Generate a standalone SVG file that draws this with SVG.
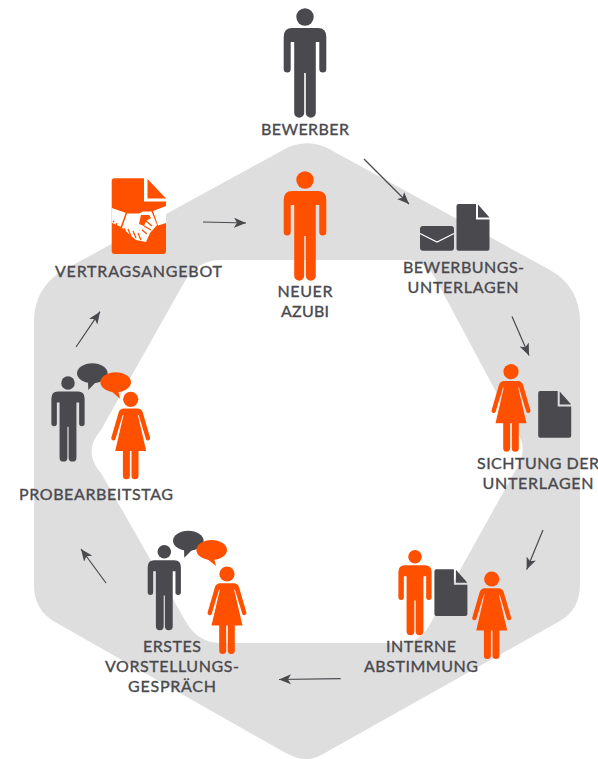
<svg xmlns="http://www.w3.org/2000/svg" width="598" height="759" viewBox="0 0 598 759">
<style>
.t{font-family:"Lato","Liberation Sans",sans-serif;font-size:16px;font-weight:400;fill:#4a494e;stroke:#4a494e;stroke-width:.35;text-anchor:middle}
.dk{fill:#4a494e}.or{fill:#ff5000}
.c{fill:none;stroke:#4a494e;stroke-width:1.2;marker-end:url(#ah)}
</style>
<defs>
<marker id="ah" markerUnits="userSpaceOnUse" markerWidth="14" markerHeight="12" refX="12" refY="5" orient="auto" viewBox="0 0 14 10">
<path d="M0,0 L12,5 L0,10 L3,5Z" fill="#4a494e"/>
</marker>
<g id="man"><circle cx="0" cy="0" r="8.7"/><path d="M-13,11H13Q21.3,11 21.3,20V52A3.5,3.5 0 0 1 14.3,52V25H10.8V95.7A5,5 0 0 1 0.8,95.7V56H-0.8V95.7A5,5 0 0 1 -10.8,95.7V25H-14.3V52A3.5,3.5 0 0 1 -21.3,52V20Q-21.3,11 -13,11Z"/></g>
<g id="woman"><circle cx="0" cy="0" r="7.6"/>
<path d="M-7,9.3H7Q10.5,9.3 12,13L19.4,38.5A2.2,2.2 0 0 1 15.3,40L8.2,16.5L7,15L15.5,51.6H7.8V76.5A3.5,3.5 0 0 1 .8,76.5V51.6H-.8V76.5A3.5,3.5 0 0 1 -7.8,76.5V51.6H-15.5L-7,15L-8.2,16.5L-15.3,40A2.2,2.2 0 0 1 -19.4,38.5L-12,13Q-10.5,9.3 -7,9.3Z"/></g>
<path id="doc" d="M2,0H19.5V15.5H33V44.7A2,2 0 0 1 31,46.7H2A2,2 0 0 1 0,44.7V2A2,2 0 0 1 2,0ZM21.5,0.5L33,13.5H21.5Z"/>
</defs>
<path id="ring" fill="#dedede" fill-rule="evenodd" d="M283,150C298,141 316,141 331,150L550,270Q580,287 580,322V585Q580,610 559,621.5L331,749.5C311,762 303,762 283,751.5L55,622Q34,610 34,585V322Q34,287 64,270Z
M221,260H405Q424,260 434,276L518,433Q529,452 514,473L429,626Q419,643 402,643H221Q198,643 186,622L101,473Q82,451.5 101,430L185,281Q198,260 221,260Z"/>
<g id="connectors">
<line class="c" x1="364" y1="159" x2="409" y2="204"/>
<line class="c" x1="512" y1="316.5" x2="529" y2="355.4"/>
<line class="c" x1="543" y1="530" x2="526.7" y2="569.6"/>
<line class="c" x1="340.6" y1="678.7" x2="279" y2="679.5"/>
<line class="c" x1="106" y1="583" x2="81" y2="549"/>
<line class="c" x1="76" y1="347" x2="100" y2="311.7"/>
<line class="c" x1="203" y1="222" x2="246" y2="223"/>
</g>
<g id="bewerber"><use href="#man" class="dk" transform="translate(305,17)"/><text class="t" x="305" y="135" textLength="88">BEWERBER</text></g>
<g id="neuer-azubi"><use href="#man" class="or" transform="translate(305,180)"/><text class="t" x="305" y="296.5" textLength="55">NEUER</text><text class="t" x="305" y="316.5" textLength="48">AZUBI</text></g>
<g id="bewerbungsunterlagen">
<path class="dk" d="M423,226H451A3,3 0 0 1 454,229V247.7A3,3 0 0 1 451,250.7H423A3,3 0 0 1 420,247.7V229A3,3 0 0 1 423,226Z"/>
<path d="M420,233.5L437,242L454,233.5" fill="none" stroke="#fff" stroke-width="1.2"/>
<use href="#doc" class="dk" transform="translate(456.5,204)"/>
<text class="t" x="463.5" y="273" textLength="121">BEWERBUNGS-</text><text class="t" x="463" y="292.5" textLength="111">UNTERLAGEN</text></g>
<g id="sichtung"><use href="#woman" class="or" transform="translate(511,371.7)"/><use href="#doc" class="dk" transform="translate(538.2,391)"/>
<text class="t" x="538" y="469" textLength="122">SICHTUNG DER</text><text class="t" x="538" y="488.5" textLength="111">UNTERLAGEN</text></g>
<g id="interne"><use href="#man" class="or" transform="translate(415,556.7) scale(.78)"/><use href="#doc" class="dk" transform="translate(434.4,569.3)"/><use href="#woman" class="or" transform="translate(491.7,579)"/>
<text class="t" x="421" y="651.5" textLength="70">INTERNE</text><text class="t" x="421" y="671.5" textLength="114">ABSTIMMUNG</text></g>
<g id="erstes"><use href="#man" class="dk" transform="translate(164.3,551.7) scale(.78)"/>
<ellipse class="dk" cx="188.3" cy="540.7" rx="15.3" ry="10"/><path class="dk" d="M184,549L184.3,557.7L193,549Z"/>
<ellipse class="or" cx="211.7" cy="550" rx="15.3" ry="10"/><path class="or" d="M206,558L216,566L214,558Z"/>
<use href="#woman" class="or" transform="translate(227,574)"/>
<text class="t" x="172" y="651.5" textLength="58">ERSTES</text><text class="t" x="172" y="671.5" textLength="134">VORSTELLUNGS-</text><text class="t" x="172" y="691.5" textLength="88">GESPRÄCH</text></g>
<g id="probearbeitstag"><use href="#man" class="dk" transform="translate(68,383) scale(.78)"/>
<ellipse class="dk" cx="92.3" cy="373.3" rx="15.3" ry="10"/><path class="dk" d="M88,382L88.3,390L96,382Z"/>
<ellipse class="or" cx="115.7" cy="382.3" rx="15.3" ry="10"/><path class="or" d="M110,390L120,398.7L118,390Z"/>
<use href="#woman" class="or" transform="translate(130.7,399.3)"/>
<text class="t" x="96" y="500" textLength="154">PROBEARBEITSTAG</text></g>
<g id="vertragsangebot">
<path class="or" d="M114.7,178.3H144V201.5H166V251A3,3 0 0 1 163,254H114.7A3,3 0 0 1 111.7,251V181.3A3,3 0 0 1 114.7,178.3ZM147.5,179L166,198.5H147.5Z"/>
<path fill="#fff" d="M111.7,208L125.7,212.7L120.7,226.7L111.7,222.7ZM166,206V223L158,225.5L153,211Z"/>
<path fill="#fff" d="M127,213.5L139,213.5L143,211.5L151.5,211.5L157,225L150,233L146,242L136,240L122,228Z"/>
<path fill="#ff5000" d="M141,215H149L151,218L146,221L144,226L139,224Z"/>
<path d="M124,228L126,233M128,229L131,236M133,231L136,238M138,233L141,240M146,221L152,226M144,226L151,230M142,230L147,234" fill="none" stroke="#ff5000" stroke-width="1.3"/>
<circle cx="113.5" cy="221.5" r=".9" fill="#ff5000"/><circle cx="116.5" cy="224" r=".9" fill="#ff5000"/>
<text class="t" x="138.5" y="277" textLength="167">VERTRAGSANGEBOT</text></g>
</svg>
